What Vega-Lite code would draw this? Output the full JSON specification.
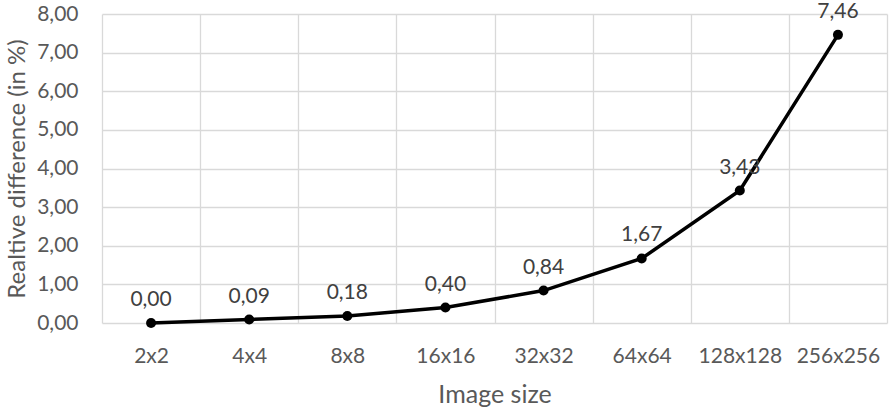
{
  "$schema": "https://vega.github.io/schema/vega-lite/v6.json",
  "autosize": {"type": "none"},
  "width": 785,
  "height": 309,
  "padding": {"left": 102, "top": 14, "right": 2, "bottom": 87},
  "background": "white",
  "config": {
    "locale": {"number": {"decimal": ",", "thousands": ".", "grouping": [3], "currency": ["", " €"]}},
    "view": {"stroke": null},
    "font": "Lato",
    "axis": {"labelFont": "Lato", "titleFont": "Lato", "labelColor": "#595959", "titleColor": "#595959", "labelFontSize": 21, "titleFontSize": 25, "titleFontWeight": "normal", "gridColor": "#d9d9d9", "gridWidth": 1.3, "domain": false, "ticks": false}
  },
  "data": {"values": [
    {"size": "2x2", "diff": 0.00},
    {"size": "4x4", "diff": 0.09},
    {"size": "8x8", "diff": 0.18},
    {"size": "16x16", "diff": 0.40},
    {"size": "32x32", "diff": 0.84},
    {"size": "64x64", "diff": 1.67},
    {"size": "128x128", "diff": 3.43},
    {"size": "256x256", "diff": 7.46}
  ]},
  "encoding": {
    "x": {"field": "size", "type": "ordinal", "sort": null, "title": "Image size",
      "axis": {"labelAngle": 0, "grid": true, "tickBand": "extent", "labelPadding": 22, "titlePadding": 16}},
    "y": {"field": "diff", "type": "quantitative", "title": "Realtive difference (in %)",
      "scale": {"domain": [0, 8], "nice": false},
      "axis": {"values": [0,1,2,3,4,5,6,7,8], "format": ".2f", "labelPadding": 24, "titlePadding": 7, "titleFontSize": 24}}
  },
  "layer": [
    {"mark": {"type": "line", "color": "black", "strokeWidth": 3.5}},
    {"mark": {"type": "point", "filled": true, "color": "black", "size": 100, "opacity": 1}},
    {"mark": {"type": "text", "dy": -23, "fontSize": 21, "font": "Lato", "color": "#404040"},
      "encoding": {"text": {"field": "diff", "type": "quantitative", "format": ".2f"}}}
  ]
}
